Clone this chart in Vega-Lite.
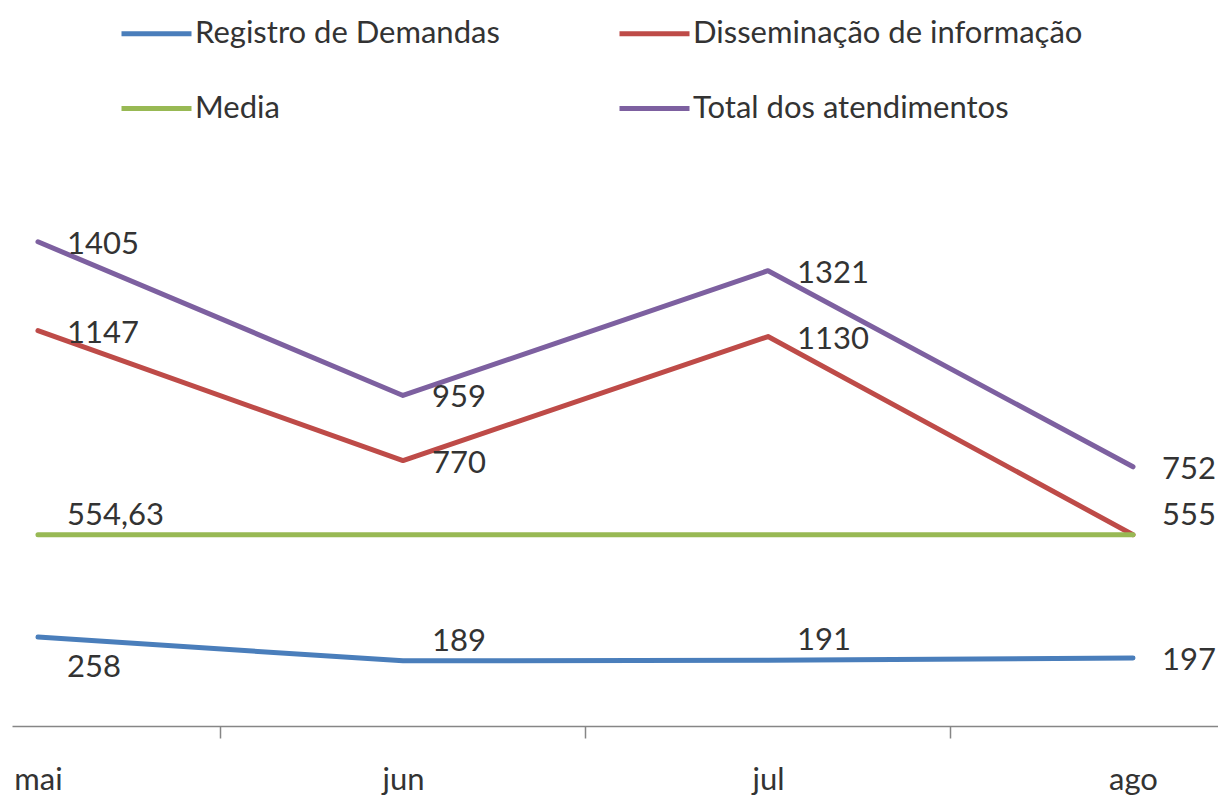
{
  "$schema": "https://vega.github.io/schema/vega-lite/v6.json",
  "width": 1206,
  "height": 517,
  "autosize": {"type": "none"},
  "padding": {"left": 12, "top": 209, "right": 0, "bottom": 70},
  "background": "white",
  "config": {"view": {"stroke": null}, "font": "Lato"},
  "data": {
    "values": [
      {"series": "Registro de Demandas", "month": "mai", "value": 258, "label": "258"},
      {"series": "Registro de Demandas", "month": "jun", "value": 189, "label": "189"},
      {"series": "Registro de Demandas", "month": "jul", "value": 191, "label": "191"},
      {"series": "Registro de Demandas", "month": "ago", "value": 197, "label": "197"},
      {"series": "Disseminação de informação", "month": "mai", "value": 1147, "label": "1147"},
      {"series": "Disseminação de informação", "month": "jun", "value": 770, "label": "770"},
      {"series": "Disseminação de informação", "month": "jul", "value": 1130, "label": "1130"},
      {"series": "Disseminação de informação", "month": "ago", "value": 555, "label": "555"},
      {"series": "Media", "month": "mai", "value": 554.63, "label": "554,63"},
      {"series": "Media", "month": "jun", "value": 554.63, "label": "554,63"},
      {"series": "Media", "month": "jul", "value": 554.63, "label": "554,63"},
      {"series": "Media", "month": "ago", "value": 554.63, "label": "554,63"},
      {"series": "Total dos atendimentos", "month": "mai", "value": 1405, "label": "1405"},
      {"series": "Total dos atendimentos", "month": "jun", "value": 959, "label": "959"},
      {"series": "Total dos atendimentos", "month": "jul", "value": 1321, "label": "1321"},
      {"series": "Total dos atendimentos", "month": "ago", "value": 752, "label": "752"}
    ]
  },
  "encoding": {
    "x": {
      "field": "month",
      "type": "nominal",
      "sort": ["mai", "jun", "jul", "ago"],
      "scale": {"type": "point", "padding": 0.152, "align": 0.234},
      "axis": {
        "title": null,
        "domainColor": "#868686",
        "domainWidth": 1.5,
        "tickColor": "#868686",
        "tickWidth": 1.5,
        "tickSize": 12,
        "tickOffset": 182.5,
        "labelOffset": -182.5,
        "labelAngle": 0,
        "labelFontSize": 31,
        "labelColor": "#333333",
        "labelPadding": 27,
        "grid": false
      }
    },
    "y": {
      "field": "value",
      "type": "quantitative",
      "scale": {"domain": [0, 1500], "nice": false, "zero": true},
      "axis": null
    }
  },
  "layer": [
    {
      "mark": {"type": "line", "strokeWidth": 5, "strokeCap": "round", "strokeJoin": "round"},
      "encoding": {
        "color": {
          "field": "series",
          "type": "nominal",
          "scale": {
            "domain": ["Registro de Demandas", "Disseminação de informação", "Media", "Total dos atendimentos"],
            "range": ["#4a7ebb", "#be4b48", "#98b954", "#7d60a0"]
          },
          "legend": {
            "title": null,
            "orient": "none",
            "legendX": 107,
            "legendY": -213,
            "columns": 2,
            "direction": "horizontal",
            "padding": 0,
            "symbolType": "stroke",
            "symbolSize": 4900,
            "symbolStrokeWidth": 5,
            "labelFontSize": 31,
            "labelColor": "#333333",
            "labelOffset": 1,
            "labelLimit": 600,
            "columnPadding": 109,
            "rowPadding": 22
          }
        }
      }
    },
    {
      "transform": [{"filter": "datum.series != 'Media' && !(datum.series == 'Registro de Demandas' && datum.month != 'ago') && !(datum.series == 'Disseminação de informação' && datum.month == 'ago')"}],
      "mark": {"type": "text", "align": "left", "baseline": "middle", "dx": 29, "dy": 3, "fontSize": 31, "color": "#333333"},
      "encoding": {"text": {"field": "label"}}
    },
    {
      "transform": [{"filter": "(datum.series == 'Media' && datum.month == 'mai') || (datum.series == 'Registro de Demandas' && (datum.month == 'jun' || datum.month == 'jul')) || (datum.series == 'Disseminação de informação' && datum.month == 'ago')"}],
      "mark": {"type": "text", "align": "left", "baseline": "middle", "dx": 29, "dy": -19, "fontSize": 31, "color": "#333333"},
      "encoding": {"text": {"field": "label"}}
    },
    {
      "transform": [{"filter": "datum.series == 'Registro de Demandas' && datum.month == 'mai'"}],
      "mark": {"type": "text", "align": "left", "baseline": "middle", "dx": 29, "dy": 31, "fontSize": 31, "color": "#333333"},
      "encoding": {"text": {"field": "label"}}
    }
  ]
}
